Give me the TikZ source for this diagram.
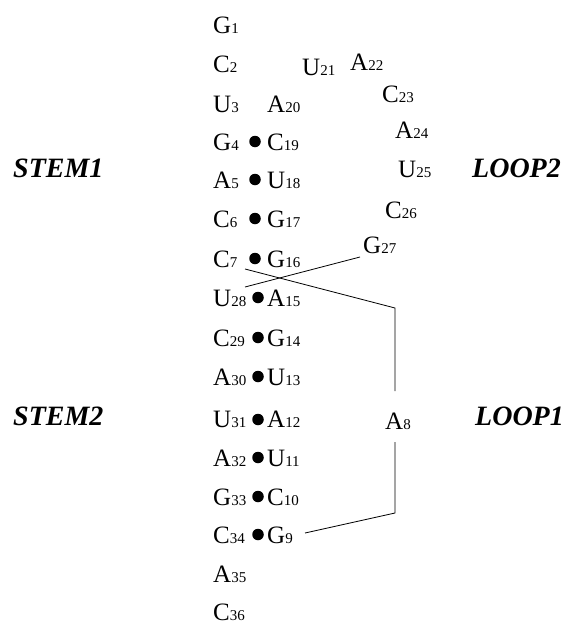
\documentclass[tikz,border=0pt]{standalone}
\usepackage{fontspec}
\setmainfont{Liberation Serif}
\newcommand\nsub[1]{{\fontsize{15pt}{15pt}\selectfont #1}}
\tikzset{
  nt/.style={anchor=base west, inner sep=0pt, font=\fontsize{25pt}{25pt}\selectfont},
  region/.style={anchor=base west, inner sep=0pt, font=\fontsize{28pt}{28pt}\selectfont\bfseries\itshape},
  pairdot/.style={circle, fill=black, inner sep=0pt, minimum size=11.5pt},
  link/.style={draw=black, line width=0.8pt}
}
\begin{document}
\begin{tikzpicture}[x=1pt,y=-1pt]
\useasboundingbox (0,0) rectangle (566,624);

% region labels
\node[region] (stem1) at (13,177) {STEM1};
\node[region] (loop2) at (472,177) {LOOP2};
\node[region] (stem2) at (13,425) {STEM2};
\node[region] (loop1) at (475,425) {LOOP1};

% 5' strand (left column)
\node[nt] (n1)  at (213,33)  {G\nsub{1}};
\node[nt] (n2)  at (213,72)  {C\nsub{2}};
\node[nt] (n3)  at (213,112) {U\nsub{3}};
\node[nt] (n4)  at (213,150) {G\nsub{4}};
\node[nt] (n5)  at (213,188) {A\nsub{5}};
\node[nt] (n6)  at (213,227) {C\nsub{6}};
\node[nt] (n7)  at (213,267) {C\nsub{7}};
\node[nt] (n28) at (213,306) {U\nsub{28}};
\node[nt] (n29) at (213,346) {C\nsub{29}};
\node[nt] (n30) at (213,385) {A\nsub{30}};
\node[nt] (n31) at (213,427) {U\nsub{31}};
\node[nt] (n32) at (213,466) {A\nsub{32}};
\node[nt] (n33) at (213,505) {G\nsub{33}};
\node[nt] (n34) at (213,543) {C\nsub{34}};
\node[nt] (n35) at (213,582) {A\nsub{35}};
\node[nt] (n36) at (213,620) {C\nsub{36}};

% partner column
\node[nt] (n20) at (267,112) {A\nsub{20}};
\node[nt] (n19) at (267,150) {C\nsub{19}};
\node[nt] (n18) at (267,188) {U\nsub{18}};
\node[nt] (n17) at (267,227) {G\nsub{17}};
\node[nt] (n16) at (267,267) {G\nsub{16}};
\node[nt] (n15) at (267,306) {A\nsub{15}};
\node[nt] (n14) at (267,346) {G\nsub{14}};
\node[nt] (n13) at (267,385) {U\nsub{13}};
\node[nt] (n12) at (267,427) {A\nsub{12}};
\node[nt] (n11) at (267,466) {U\nsub{11}};
\node[nt] (n10) at (267,505) {C\nsub{10}};
\node[nt] (n9)  at (267,543) {G\nsub{9}};

% loop 2
\node[nt] (n21) at (302,75)  {U\nsub{21}};
\node[nt] (n22) at (350,70)  {A\nsub{22}};
\node[nt] (n23) at (382,102) {C\nsub{23}};
\node[nt] (n24) at (395,138) {A\nsub{24}};
\node[nt] (n25) at (398,177) {U\nsub{25}};
\node[nt] (n26) at (385,218) {C\nsub{26}};
\node[nt] (n27) at (363,253) {G\nsub{27}};

% loop 1
\node[nt] (n8) at (385,429) {A\nsub{8}};

% base-pair dots
\node[pairdot] (p4)  at (255,141.5) {};
\node[pairdot] (p5)  at (255,179.5) {};
\node[pairdot] (p6)  at (255,218.5) {};
\node[pairdot] (p7)  at (255,258.5) {};
\node[pairdot] (p28) at (258,297.5) {};
\node[pairdot] (p29) at (258,337.5) {};
\node[pairdot] (p30) at (258,376.5) {};
\node[pairdot] (p31) at (258,419.5) {};
\node[pairdot] (p32) at (258,457.5) {};
\node[pairdot] (p33) at (258,496.5) {};
\node[pairdot] (p34) at (258,534.5) {};

% backbone links
\coordinate (a7)  at (245,269);
\coordinate (k1)  at (395,308);
\coordinate (a8t) at (395,391);
\draw[link] (a7) -- (k1) -- (a8t);

\coordinate (a28) at (245,287);
\coordinate (a27) at (360,257);
\draw[link] (a28) -- (a27);

\coordinate (a8b) at (395,442);
\coordinate (k2)  at (395,513);
\coordinate (a9)  at (305,533);
\draw[link] (a8b) -- (k2) -- (a9);
\end{tikzpicture}
\end{document}
